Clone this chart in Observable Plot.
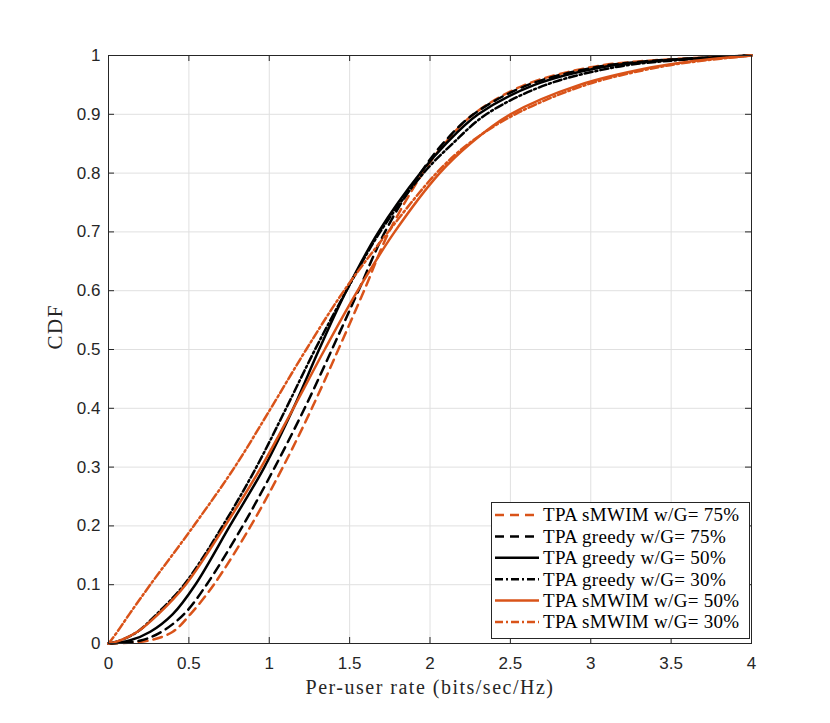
<!DOCTYPE html>
<html>
<head>
<meta charset="utf-8">
<script src="https://cdn.jsdelivr.net/npm/d3@7"></script>
<script src="https://cdn.jsdelivr.net/npm/@observablehq/plot@0.6"></script>
<style>
  body { margin: 0; background: #fff; }
  #chart { position: relative; width: 830px; height: 723px; }
</style>
</head>
<body>
<div id="chart"></div>
<script>
// CDF levels (y) and per-user rate at each level (x) for each series
const cdfLevels = [0, 0.005, 0.02, 0.05, 0.1, 0.2, 0.3, 0.4, 0.5, 0.6, 0.7, 0.8, 0.85, 0.9, 0.95, 0.98, 0.99, 1];
const sMWIM75  = [0, 0.25, 0.40, 0.51, 0.655, 0.885, 1.085, 1.265, 1.43, 1.59, 1.745, 1.955, 2.09, 2.27, 2.59, 3.00, 3.30, 4.0];
const greedy75 = [0, 0.20, 0.33, 0.47, 0.61, 0.835, 1.035, 1.22, 1.39, 1.555, 1.72, 1.94, 2.08, 2.27, 2.61, 3.03, 3.33, 4.0];
const greedy50 = [0, 0.13, 0.26, 0.40, 0.54, 0.755, 0.97, 1.15, 1.31, 1.48, 1.68, 1.94, 2.10, 2.30, 2.65, 3.07, 3.38, 4.0];
const greedy30 = [0, 0.07, 0.18, 0.30, 0.47, 0.71, 0.92, 1.105, 1.285, 1.48, 1.69, 1.96, 2.14, 2.35, 2.72, 3.15, 3.45, 4.0];
const sMWIM50  = [0, 0.07, 0.18, 0.31, 0.48, 0.725, 0.95, 1.15, 1.345, 1.55, 1.78, 2.06, 2.25, 2.50, 2.93, 3.38, 3.62, 4.0];
const sMWIM30  = [0, 0.015, 0.055, 0.13, 0.26, 0.53, 0.785, 1.01, 1.23, 1.465, 1.74, 2.04, 2.24, 2.53, 2.97, 3.42, 3.66, 4.0];

const seriesNames = [
  "TPA sMWIM w/G= 75%",
  "TPA greedy w/G= 75%",
  "TPA greedy w/G= 50%",
  "TPA greedy w/G= 30%",
  "TPA sMWIM w/G= 50%",
  "TPA sMWIM w/G= 30%"
];
const seriesValues = [sMWIM75, greedy75, greedy50, greedy30, sMWIM50, sMWIM30];

const xTicks = [0, 0.5, 1, 1.5, 2, 2.5, 3, 3.5, 4];
const yTicks = [0, 0.1, 0.2, 0.3, 0.4, 0.5, 0.6, 0.7, 0.8, 0.9, 1];
const xLabel = "Per-user rate (bits/sec/Hz)";
const yLabel = "CDF";

// styles
const ORANGE = "#D95319";
const styles = [
  {stroke: ORANGE, dash: "9,6"},
  {stroke: "#000", dash: "9,6"},
  {stroke: "#000", dash: null},
  {stroke: "#000", dash: "8,3,2,3"},
  {stroke: ORANGE, dash: null},
  {stroke: ORANGE, dash: "8,3,2,3"}
];

const W = 830, H = 723;
const mL = 108, mR = 79, mT = 55, mB = 80;
const tickPx = 6;
const xTickLen = tickPx / (H - mT - mB);       // in y data units
const yTickLen = 4 * tickPx / (W - mL - mR);   // in x data units

const lineMarks = seriesValues.map((xs, k) =>
  Plot.line(cdfLevels, {
    x: (d, i) => xs[i],
    y: d => d,
    stroke: styles[k].stroke,
    strokeWidth: 2.5,
    strokeDasharray: styles[k].dash,
    curve: "catmull-rom"
  })
);

const chart = Plot.plot({
  width: W,
  height: H,
  marginLeft: mL,
  marginRight: mR,
  marginTop: mT,
  marginBottom: mB,
  style: {fontFamily: "'Liberation Sans', Arial, sans-serif", fontSize: "17px", color: "#262626", background: "#fff"},
  x: {domain: [0, 4]},
  y: {domain: [0, 1]},
  marks: [
    Plot.gridX(xTicks, {stroke: "#e0e0e0", strokeOpacity: 1}),
    Plot.gridY(yTicks, {stroke: "#e0e0e0", strokeOpacity: 1}),
    // inward ticks on all four sides
    Plot.ruleX(xTicks, {x: d => d, y1: 0, y2: xTickLen, stroke: "#262626"}),
    Plot.ruleX(xTicks, {x: d => d, y1: 1, y2: 1 - xTickLen, stroke: "#262626"}),
    Plot.ruleY(yTicks, {y: d => d, x1: 0, x2: yTickLen, stroke: "#262626"}),
    Plot.ruleY(yTicks, {y: d => d, x1: 4, x2: 4 - yTickLen, stroke: "#262626"}),
    ...lineMarks,
    Plot.frame({stroke: "#262626", strokeWidth: 1}),
    Plot.axisX(xTicks, {tickSize: 0, tickPadding: 13, label: null, tickFormat: d => String(d), fontSize: 17, fill: "#262626"}),
    Plot.axisY(yTicks, {tickSize: 0, tickPadding: 8, label: null, tickFormat: d => String(d), fontSize: 17, fill: "#262626"}),
    Plot.text([xLabel], {frameAnchor: "bottom", dy: 44, text: d => d, fontFamily: "'Liberation Serif', 'Times New Roman', serif", fontSize: 20, fill: "#262626", lineAnchor: "middle"}),
    Plot.text([yLabel], {frameAnchor: "left", dx: -53, rotate: -90, text: d => d, fontFamily: "'Liberation Serif', 'Times New Roman', serif", fontSize: 21, fill: "#262626", lineAnchor: "middle"})
  ]
});

document.getElementById("chart").appendChild(chart);

// letter spacing for the serif axis labels (Computer Modern is wider than Times)
d3.select(chart).selectAll("text").filter(function() { return this.textContent === xLabel; })
  .style("letter-spacing", "1.5px");
d3.select(chart).selectAll("text").filter(function() { return this.textContent === yLabel; })
  .style("letter-spacing", "1.5px");

// legend (inside the plot, lower right)
const lg = d3.select(chart).append("g").attr("class", "legend").attr("text-anchor", "start");
const lx = 491, ly = 502, lw = 258, lh = 136;
lg.append("rect").attr("x", lx + 0.5).attr("y", ly + 0.5).attr("width", lw).attr("height", lh)
  .attr("fill", "#fff").attr("stroke", "#262626").attr("stroke-width", 1);
seriesNames.forEach((name, k) => {
  const cy = ly + 13 + k * 21.4;
  lg.append("line").attr("x1", lx + 4).attr("x2", lx + 48).attr("y1", cy).attr("y2", cy)
    .attr("stroke", styles[k].stroke).attr("stroke-width", 2.5)
    .attr("stroke-dasharray", styles[k].dash);
  lg.append("text").attr("x", lx + 52).attr("y", cy).attr("dy", "0.34em")
    .attr("text-anchor", "start")
    .attr("font-family", "'Liberation Serif', 'Times New Roman', serif")
    .attr("font-size", 19).attr("fill", "#000")
    .style("letter-spacing", "0.3px").text(name);
});
</script>
</body>
</html>
